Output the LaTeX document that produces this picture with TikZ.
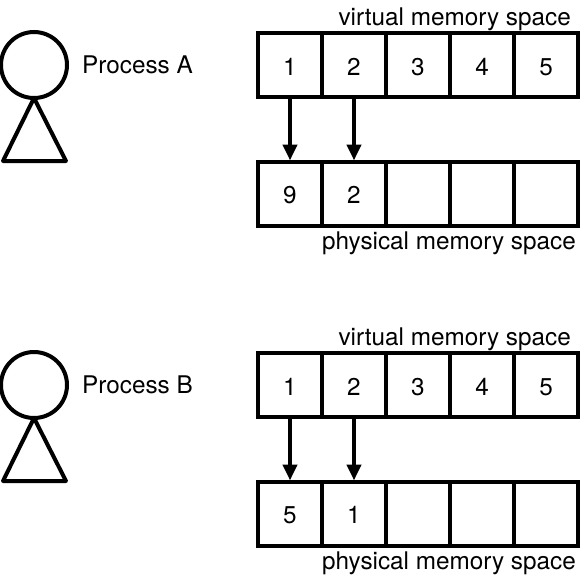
\documentclass[tikz,border=0pt]{standalone}
\usepackage{fontspec}
\setmainfont{TeX Gyre Heros}
\usetikzlibrary{arrows.meta}
\tikzset{
 cell/.style={draw,line width=4pt,minimum width=64pt,minimum height=64pt,inner sep=0pt,text height=20pt,text depth=0pt,font=\fontsize{24.3}{28}\selectfont},
 lab/.style={inner sep=0pt,font=\fontsize{24.3}{28}\selectfont},
 conn/.style={line width=4pt,-{Triangle[length=16pt,width=14pt]},shorten >=-1pt},
 figure/.style={line width=4pt}
}
\begin{document}
\begin{tikzpicture}[x=1pt,y=-1pt]
\useasboundingbox (0,0) rectangle (581,576);
\foreach \pre/\dy/\pa/\pb/\nm in {a/0/9/2/A,b/320/5/1/B}{
 \foreach \i/\t in {1/1,2/2,3/3,4/4,5/5}
  \node[cell] (\pre v\i) at ({226+64*\i},{65+\dy}) {\t};
 \node[cell] (\pre p1) at (290,{193.5+\dy}) {\pa};
 \node[cell] (\pre p2) at (354,{193.5+\dy}) {\pb};
 \node[cell] (\pre p3) at (418,{193.5+\dy}) {};
 \node[cell] (\pre p4) at (482,{193.5+\dy}) {};
 \node[cell] (\pre p5) at (546,{193.5+\dy}) {};
 \draw[conn] (\pre v1.south) -- (\pre p1.north);
 \draw[conn] (\pre v2.south) -- (\pre p2.north);
 \node[lab,anchor=base east] (\pre vl) at (571,{25+\dy}) {virtual memory space};
 \node[lab,anchor=base east] (\pre pl) at (576,{249+\dy}) {physical memory space};
 \node[lab,anchor=base west] (\pre n) at (82,{73+\dy}) {Process \nm};
 \node[draw,circle,line width=4pt,minimum size=66pt,inner sep=0pt,outer sep=0pt] (\pre h) at (34,{65+\dy}) {};
 \coordinate (\pre l) at (3,{161+\dy});
 \coordinate (\pre r) at (66,{161+\dy});
 \draw[figure,line join=round] (\pre h.south) -- (\pre l) -- (\pre r) -- cycle;
}
\end{tikzpicture}
\end{document}
